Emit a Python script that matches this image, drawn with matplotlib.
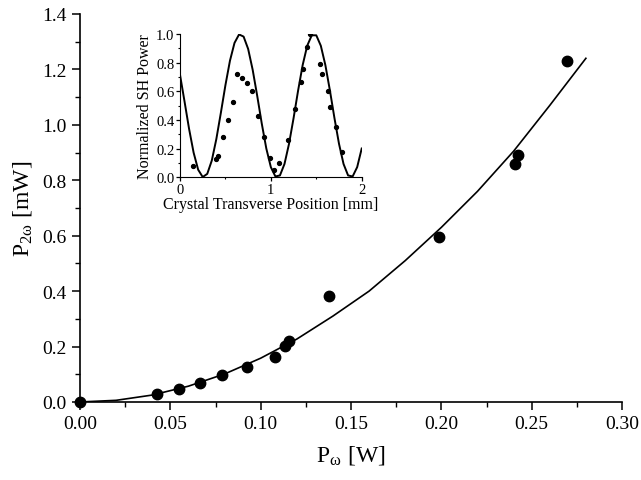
import numpy as np
import matplotlib
matplotlib.use("Agg")
import matplotlib.pyplot as plt
from matplotlib.ticker import MultipleLocator

plt.rcParams['font.family'] = ['Liberation Serif', 'DejaVu Serif']
plt.rcParams['mathtext.fontset'] = 'stix'

# measured SH power vs fundamental power
p_fund = [0.0, 0.0424, 0.0547, 0.0663, 0.0786, 0.0926, 0.1079, 0.1133, 0.1155,
          0.138, 0.1985, 0.2407, 0.2422, 0.2698]
p_sh = [0.0, 0.027, 0.048, 0.068, 0.096, 0.128, 0.164, 0.202, 0.219,
        0.384, 0.597, 0.857, 0.892, 1.232]

# fitted curve
fit_x = [0.0, 0.02, 0.04, 0.06, 0.08, 0.10, 0.12, 0.14, 0.16, 0.18, 0.20,
         0.22, 0.24, 0.26, 0.28]
fit_y = [0.0, 0.006, 0.025, 0.057, 0.101, 0.158, 0.227, 0.31, 0.40, 0.51,
         0.63, 0.76, 0.905, 1.07, 1.24]

# inset: normalized SH power across the crystal
pos = [0.139, 0.396, 0.414, 0.469, 0.531, 0.586, 0.623, 0.681, 0.736, 0.791,
       0.861, 0.923, 0.996, 1.033, 1.092, 1.19, 1.271, 1.337, 1.355, 1.403,
       1.436, 1.538, 1.560, 1.630, 1.656, 1.714, 1.788]
norm_sh = [0.081, 0.128, 0.147, 0.284, 0.40, 0.523, 0.721, 0.691, 0.66, 0.605,
           0.43, 0.284, 0.133, 0.053, 0.10, 0.263, 0.477, 0.663, 0.756, 0.907,
           1.0, 0.791, 0.721, 0.605, 0.488, 0.349, 0.174]

theory_x = [0.00, 0.05, 0.10, 0.15, 0.20, 0.25, 0.30, 0.35, 0.40, 0.45, 0.50,
            0.55, 0.60, 0.65, 0.70, 0.75, 0.80, 0.85, 0.90, 0.95, 1.00,
            1.05, 1.10, 1.15, 1.20, 1.25, 1.30, 1.35, 1.40, 1.45, 1.50,
            1.55, 1.60, 1.65, 1.70, 1.75, 1.80, 1.85, 1.90, 1.95, 2.00]
theory_y = [0.716, 0.529, 0.338, 0.172, 0.053, 0.002, 0.024, 0.117, 0.267, 0.451, 0.643,
            0.814, 0.938, 0.997, 0.982, 0.896, 0.750, 0.568, 0.375, 0.201, 0.071,
            0.006, 0.013, 0.093, 0.234, 0.413, 0.606, 0.783, 0.918, 0.991, 0.991,
            0.918, 0.783, 0.606, 0.413, 0.234, 0.093, 0.013, 0.006, 0.071, 0.201]

fig = plt.figure(figsize=(6.41, 4.81), dpi=100)
ax = fig.add_axes([0.1248, 0.1622, 0.8456, 0.8067])

ax.plot(fit_x, fit_y, color='black', lw=1.2)
ax.plot(p_fund, p_sh, 'o', color='black', ms=7.5, clip_on=False, zorder=3)

ax.set_xlim(0, 0.30)
ax.set_ylim(0, 1.4)
ax.xaxis.set_major_locator(MultipleLocator(0.05))
ax.xaxis.set_minor_locator(MultipleLocator(0.025))
ax.yaxis.set_major_locator(MultipleLocator(0.2))
ax.yaxis.set_minor_locator(MultipleLocator(0.1))
ax.xaxis.set_major_formatter(plt.FuncFormatter(lambda v, _: f"{v:.2f}"))
ax.yaxis.set_major_formatter(plt.FuncFormatter(lambda v, _: f"{v:.1f}"))
for s in ['top', 'right']:
    ax.spines[s].set_visible(False)
for s in ['left', 'bottom']:
    ax.spines[s].set_linewidth(1.2)
ax.tick_params(which='major', direction='out', length=6, width=1.1, labelsize=14)
ax.tick_params(which='minor', direction='out', length=3.5, width=1.0)
ax.set_xlabel(r'P$_{\mathregular{ω}}$ [W]', fontsize=17, labelpad=8)
ax.set_ylabel(r'P$_{\mathregular{2ω}}$ [mW]', fontsize=17, labelpad=6)

# inset
ins = fig.add_axes([0.2808, 0.6293, 0.2835, 0.2979])
ins.plot(theory_x, theory_y, color='black', lw=1.4)
ins.plot(pos, norm_sh, 'o', color='black', ms=2.8)
ins.set_xlim(0, 2)
ins.set_ylim(0, 1.0)
ins.xaxis.set_major_locator(MultipleLocator(1))
ins.xaxis.set_minor_locator(MultipleLocator(0.5))
ins.yaxis.set_major_locator(MultipleLocator(0.2))
ins.yaxis.set_minor_locator(MultipleLocator(0.1))
ins.yaxis.set_major_formatter(plt.FuncFormatter(lambda v, _: f"{v:.1f}"))
for s in ['top', 'right']:
    ins.spines[s].set_visible(False)
ins.patch.set_alpha(0)
ins.tick_params(which='major', direction='out', length=3, width=0.9, labelsize=10.5, pad=1)
ins.tick_params(which='minor', direction='out', length=1.5, width=0.8)
ins.set_xlabel('Crystal Transverse Position [mm]', fontsize=11.5, labelpad=0)
ins.set_ylabel('Normalized SH Power', fontsize=11.5, labelpad=2)

fig.savefig('out.png', dpi=100)
